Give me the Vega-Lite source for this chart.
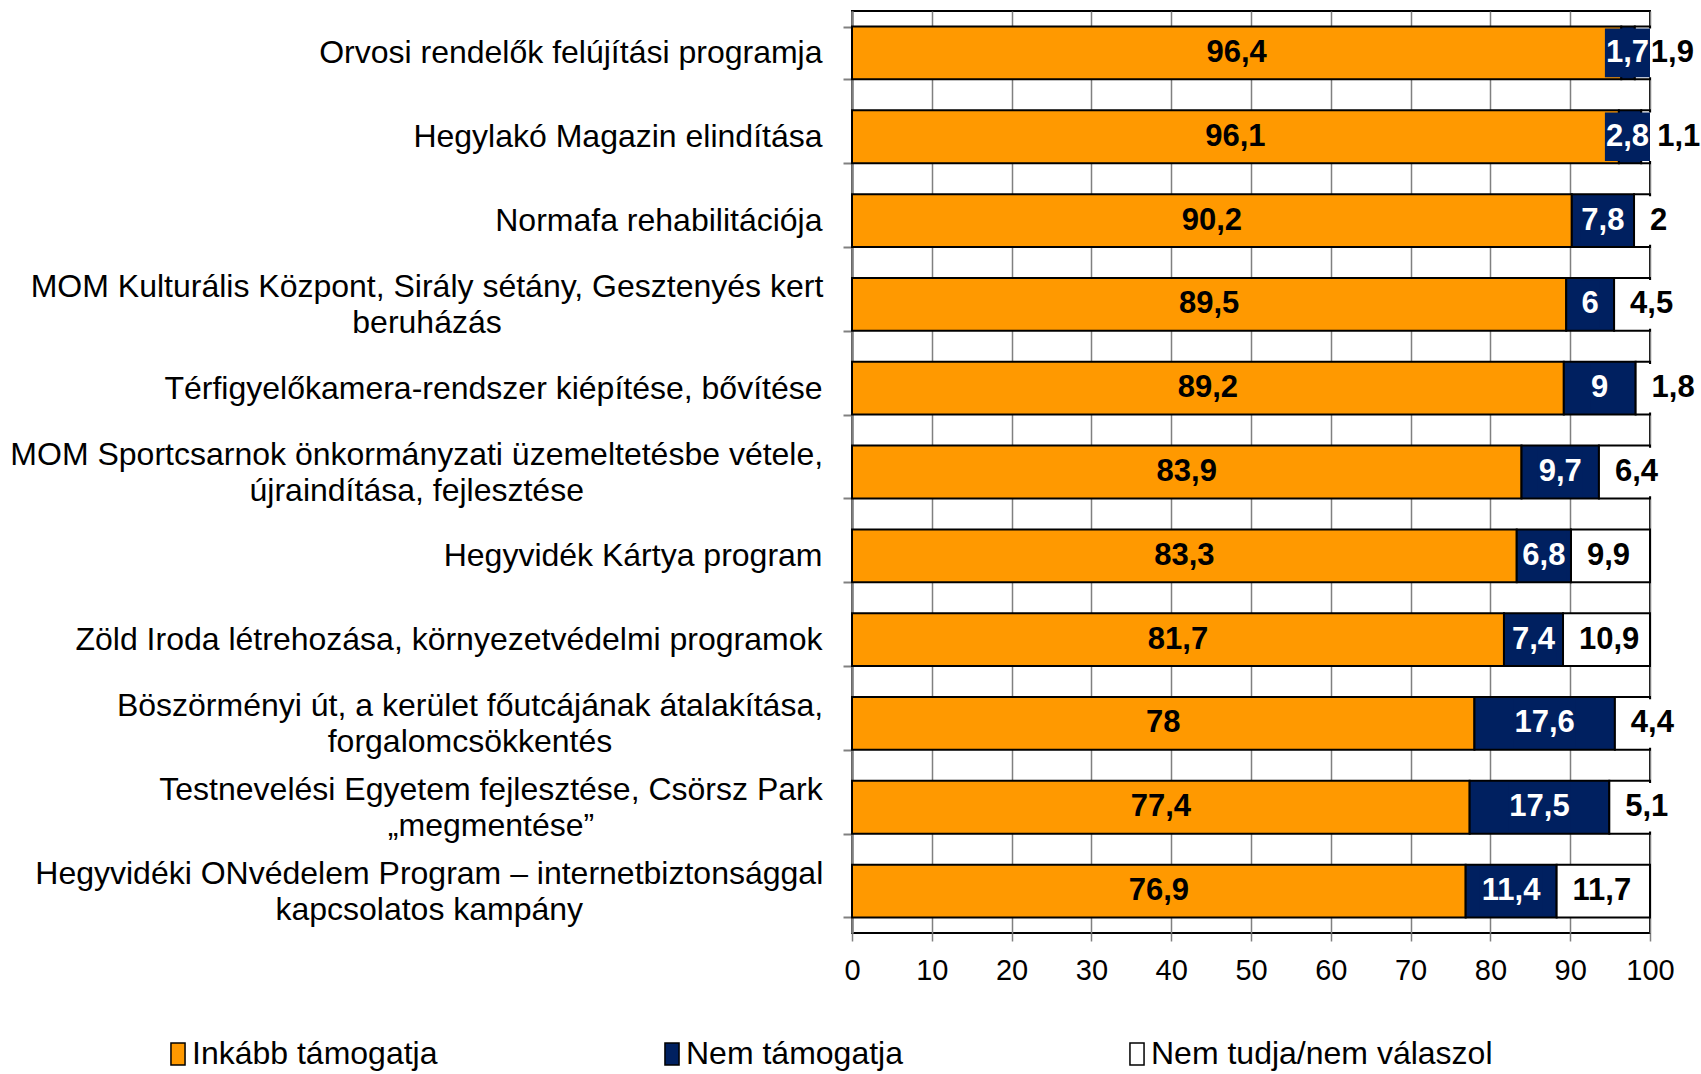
{
  "$schema": "https://vega.github.io/schema/vega-lite/v6.json",
  "width": 798,
  "height": 922,
  "autosize": {"type": "none"},
  "padding": {"left": 852, "top": 11, "right": 51, "bottom": 141},
  "background": "white",
  "config": {
    "font": "Liberation Sans",
    "view": {"stroke": "#000000", "strokeWidth": 2}
  },
  "data": {
    "values": [
      {"cat": "Orvosi rendelők felújítási programja", "Inkább támogatja": 96.4, "Nem támogatja": 1.7, "Nem tudja/nem válaszol": 1.9},
      {"cat": "Hegylakó Magazin elindítása", "Inkább támogatja": 96.1, "Nem támogatja": 2.8, "Nem tudja/nem válaszol": 1.1},
      {"cat": "Normafa rehabilitációja", "Inkább támogatja": 90.2, "Nem támogatja": 7.8, "Nem tudja/nem válaszol": 2},
      {"cat": "MOM Kulturális Központ, Sirály sétány, Gesztenyés kert|beruházás", "Inkább támogatja": 89.5, "Nem támogatja": 6, "Nem tudja/nem válaszol": 4.5},
      {"cat": "Térfigyelőkamera-rendszer kiépítése, bővítése", "Inkább támogatja": 89.2, "Nem támogatja": 9, "Nem tudja/nem válaszol": 1.8},
      {"cat": "MOM Sportcsarnok önkormányzati üzemeltetésbe vétele,|újraindítása, fejlesztése", "Inkább támogatja": 83.9, "Nem támogatja": 9.7, "Nem tudja/nem válaszol": 6.4},
      {"cat": "Hegyvidék Kártya program", "Inkább támogatja": 83.3, "Nem támogatja": 6.8, "Nem tudja/nem válaszol": 9.9},
      {"cat": "Zöld Iroda létrehozása, környezetvédelmi programok", "Inkább támogatja": 81.7, "Nem támogatja": 7.4, "Nem tudja/nem válaszol": 10.9},
      {"cat": "Böszörményi út, a kerület főutcájának átalakítása,|forgalomcsökkentés", "Inkább támogatja": 78, "Nem támogatja": 17.6, "Nem tudja/nem válaszol": 4.4},
      {"cat": "Testnevelési Egyetem fejlesztése, Csörsz Park|„megmentése”", "Inkább támogatja": 77.4, "Nem támogatja": 17.5, "Nem tudja/nem válaszol": 5.1},
      {"cat": "Hegyvidéki ONvédelem Program – internetbiztonsággal|kapcsolatos kampány", "Inkább támogatja": 76.9, "Nem támogatja": 11.4, "Nem tudja/nem válaszol": 11.7}
    ]
  },
  "transform": [
    {"fold": ["Inkább támogatja", "Nem támogatja", "Nem tudja/nem válaszol"], "as": ["series", "value"]},
    {"calculate": "indexof(['Inkább támogatja','Nem támogatja','Nem tudja/nem válaszol'], datum.series)", "as": "ord"},
    {"stack": "value", "groupby": ["cat"], "sort": [{"field": "ord", "order": "ascending"}], "as": ["x0", "x1"]},
    {"calculate": "(datum.x0 + datum.x1) / 2", "as": "xm"},
    {"calculate": "replace(format(datum.value, '.1~f'), '.', ',')", "as": "lbl"},
    {"calculate": "indexof(datum.lbl, ',') >= 0 ? (length(datum.lbl) - 1) * 17.24 + 8.62 : length(datum.lbl) * 17.24", "as": "tw"},
    {"calculate": "datum.ord == 2 ? datum.x0 + 2 : (datum.ord == 1 ? min(datum.xm, 100 - (datum.tw / 2 + 1) / 7.98) : datum.xm)", "as": "tx"},
    {"calculate": "datum.ord == 2 ? datum.x0 + 0.3 : datum.tx - (datum.tw / 2 + 1) / 7.98", "as": "bx0"},
    {"calculate": "datum.ord == 2 ? datum.tx + (datum.tw + 3) / 7.98 : datum.tx + (datum.tw / 2 + 1) / 7.98", "as": "bx1"}
  ],
  "encoding": {
    "y": {
      "field": "cat",
      "type": "nominal",
      "sort": null,
      "scale": {"paddingInner": 0.37, "paddingOuter": 0.185},
      "axis": {
        "title": null,
        "grid": false,
        "offset": 0,
        "domainColor": "#808080",
        "domainWidth": 2.5,
        "tickColor": "#808080",
        "tickWidth": 2,
        "tickSize": 9,
        "tickBand": "extent",
        "labelFontSize": 32,
        "labelColor": "#000000",
        "labelLimit": 1000,
        "labelLineHeight": 36,
        "labelAlign": {"condition": {"test": "indexof(datum.label, '|') >= 0", "value": "center"}, "value": "right"},
        "labelPadding": {
          "condition": [
            {"test": "indexof(datum.label, 'MOM Kult') == 0", "value": 416.5},
            {"test": "indexof(datum.label, 'MOM Sport') == 0", "value": 426.75},
            {"test": "indexof(datum.label, 'Böszörményi') == 0", "value": 373.5},
            {"test": "indexof(datum.label, 'Testnevelési') == 0", "value": 352.5},
            {"test": "indexof(datum.label, 'Hegyvidéki ON') == 0", "value": 414.25}
          ],
          "value": 21
        },
        "labelOffset": {"condition": {"test": "indexof(datum.label, '|') >= 0", "value": -18}, "value": 0},
        "labelExpr": "split(datum.label, '|')"
      }
    }
  },
  "layer": [
    {
      "mark": {"type": "bar", "stroke": "#000000", "strokeWidth": 2},
      "encoding": {
        "x": {
          "field": "x0",
          "type": "quantitative",
          "scale": {"domain": [0, 100], "nice": false},
          "axis": {
            "title": null,
            "values": [0, 10, 20, 30, 40, 50, 60, 70, 80, 90, 100],
            "grid": true,
            "gridColor": "#808080",
            "gridWidth": 1.5,
            "domain": false,
            "tickColor": "#808080",
            "tickWidth": 1.5,
            "tickSize": 8,
            "labelFontSize": 29,
            "labelColor": "#000000",
            "labelPadding": 15,
            "labelFlush": false
          }
        },
        "x2": {"field": "x1"},
        "color": {
          "field": "series",
          "type": "nominal",
          "scale": {
            "domain": ["Inkább támogatja", "Nem támogatja", "Nem tudja/nem válaszol"],
            "range": ["#FF9900", "#002060", "#FFFFFF"]
          },
          "legend": {
            "title": null,
            "orient": "none",
            "legendX": -690,
            "legendY": 1027,
            "direction": "horizontal",
            "columns": 3,
            "columnPadding": 218,
            "padding": 0,
            "symbolType": "M-0.64,-1H0.64V1H-0.64Z",
            "symbolSize": 484,
            "symbolStrokeColor": "#000000",
            "symbolStrokeWidth": 1.5,
            "labelFontSize": 32,
            "labelColor": "#000000",
            "labelOffset": -2,
            "labelLimit": 600
          }
        }
      }
    },
    {
      "transform": [{"filter": "datum.ord == 2"}],
      "mark": {"type": "bar", "height": {"band": 0.92}, "color": "#FFFFFF"},
      "encoding": {
        "x": {"field": "bx0", "type": "quantitative"},
        "x2": {"field": "bx1"}
      }
    },
    {
      "transform": [{"filter": "datum.ord == 1"}],
      "mark": {"type": "bar", "height": {"band": 0.92}, "color": "#002060"},
      "encoding": {
        "x": {"field": "bx0", "type": "quantitative"},
        "x2": {"field": "bx1"}
      }
    },
    {
      "transform": [{"filter": "datum.ord < 2"}],
      "mark": {"type": "text", "fontWeight": "bold", "fontSize": 31, "align": "center", "baseline": "middle"},
      "encoding": {
        "x": {"field": "tx", "type": "quantitative"},
        "text": {"field": "lbl"},
        "color": {"condition": {"test": "datum.ord == 1", "value": "#FFFFFF"}, "value": "#000000"}
      }
    },
    {
      "transform": [{"filter": "datum.ord == 2"}],
      "mark": {"type": "text", "fontWeight": "bold", "fontSize": 31, "align": "left", "baseline": "middle"},
      "encoding": {
        "x": {"field": "tx", "type": "quantitative"},
        "text": {"field": "lbl"},
        "color": {"value": "#000000"}
      }
    }
  ]
}
